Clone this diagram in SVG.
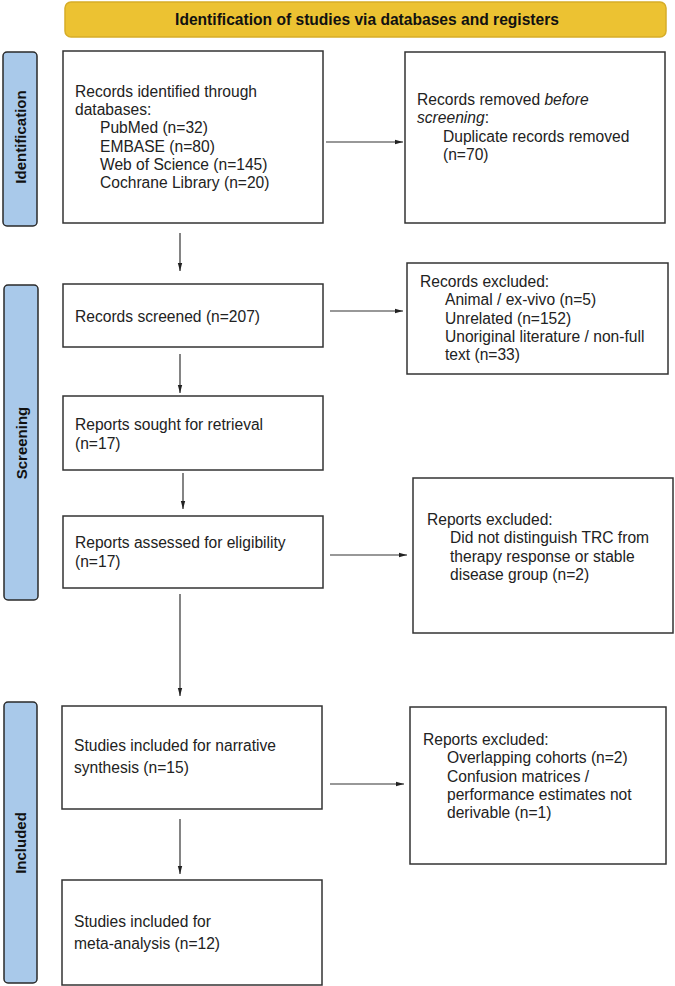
<svg xmlns="http://www.w3.org/2000/svg" width="675" height="986" viewBox="0 0 675 986">
<defs>
<marker id="ah" viewBox="0 0 8 6" refX="8" refY="3" markerWidth="8" markerHeight="6" markerUnits="userSpaceOnUse" orient="auto">
<path d="M0,0.8 L8,3 L0,5.2 Z" fill="#222"/>
</marker>
<style>
.box{fill:#fff;stroke:#333;stroke-width:1.5}
.lab{fill:#a9c9ea;stroke:#2a2a2a;stroke-width:1.5}
.t{font-family:"Liberation Sans",Arial,sans-serif;font-size:15.6px;fill:#222}
.lt{font-family:"Liberation Sans",Arial,sans-serif;font-size:15px;font-weight:bold;fill:#111}
.ht{font-family:"Liberation Sans",Arial,sans-serif;font-size:15.6px;font-weight:bold;fill:#111}
.c{stroke:#333;stroke-width:1.2;fill:none;marker-end:url(#ah)}
</style>
</defs>
<rect width="675" height="986" fill="#fff"/>
<g id="header">
<rect x="65" y="2" width="601" height="35" rx="6" fill="#ecc232" stroke="#d6ad28" stroke-width="1.5"/>
<text class="ht" x="367" y="25" text-anchor="middle">Identification of studies via databases and registers</text>
</g>
<g id="label-identification">
<rect class="lab" x="3" y="52" width="34" height="174" rx="4"/>
<text class="lt" transform="translate(25.5,137) rotate(-90)" text-anchor="middle">Identification</text>
</g>
<g id="label-screening">
<rect class="lab" x="4" y="285" width="34" height="315" rx="4"/>
<text class="lt" transform="translate(26.5,443) rotate(-90)" text-anchor="middle">Screening</text>
</g>
<g id="label-included">
<rect class="lab" x="4" y="702" width="33" height="281" rx="4"/>
<text class="lt" transform="translate(25.5,843) rotate(-90)" text-anchor="middle">Included</text>
</g>
<g id="identified">
<rect class="box" x="63" y="51" width="260" height="172"/>
<text class="t" x="75" y="96.7">Records identified through</text>
<text class="t" x="75" y="115">databases:</text>
<text class="t" x="100" y="133.3">PubMed (n=32)</text>
<text class="t" x="100" y="151.6">EMBASE (n=80)</text>
<text class="t" x="100" y="169.9">Web of Science (n=145)</text>
<text class="t" x="100" y="188.2">Cochrane Library (n=20)</text>
</g>
<g id="removed">
<rect class="box" x="405" y="52" width="260" height="171"/>
<text class="t" x="417" y="105">Records removed <tspan font-style="italic">before</tspan></text>
<text class="t" x="417" y="123.3"><tspan font-style="italic">screening</tspan>:</text>
<text class="t" x="443" y="141.6">Duplicate records removed</text>
<text class="t" x="443" y="160">(n=70)</text>
</g>
<g id="screened">
<rect class="box" x="63" y="284" width="260" height="63"/>
<text class="t" x="75" y="322">Records screened (n=207)</text>
</g>
<g id="excluded-records">
<rect class="box" x="407" y="263" width="261" height="111"/>
<text class="t" x="420" y="287">Records excluded:</text>
<text class="t" x="445" y="305.3">Animal / ex-vivo (n=5)</text>
<text class="t" x="445" y="323.6">Unrelated (n=152)</text>
<text class="t" x="445" y="342">Unoriginal literature / non-full</text>
<text class="t" x="445" y="360.3">text (n=33)</text>
</g>
<g id="sought">
<rect class="box" x="63" y="396" width="260" height="74"/>
<text class="t" x="75" y="430">Reports sought for retrieval</text>
<text class="t" x="75" y="449">(n=17)</text>
</g>
<g id="assessed">
<rect class="box" x="63" y="516" width="260" height="72"/>
<text class="t" x="75" y="548">Reports assessed for eligibility</text>
<text class="t" x="75" y="567">(n=17)</text>
</g>
<g id="excluded-reports-1">
<rect class="box" x="413" y="478" width="260" height="155"/>
<text class="t" x="427" y="525">Reports excluded:</text>
<text class="t" x="450" y="543.3">Did not distinguish TRC from</text>
<text class="t" x="450" y="561.6">therapy response or stable</text>
<text class="t" x="450" y="580">disease group (n=2)</text>
</g>
<g id="narrative">
<rect class="box" x="62" y="706" width="260" height="103"/>
<text class="t" x="74" y="751">Studies included for narrative</text>
<text class="t" x="74" y="773">synthesis (n=15)</text>
</g>
<g id="excluded-reports-2">
<rect class="box" x="410" y="707" width="256" height="157"/>
<text class="t" x="423" y="745">Reports excluded:</text>
<text class="t" x="447" y="763.3">Overlapping cohorts (n=2)</text>
<text class="t" x="447" y="781.6">Confusion matrices /</text>
<text class="t" x="447" y="800">performance estimates not</text>
<text class="t" x="447" y="818.3">derivable (n=1)</text>
</g>
<g id="meta">
<rect class="box" x="62" y="880" width="260" height="105"/>
<text class="t" x="74" y="927">Studies included for</text>
<text class="t" x="74" y="949">meta-analysis (n=12)</text>
</g>
<g id="connectors">
<line class="c" x1="180" y1="233" x2="180" y2="271"/>
<line class="c" x1="180" y1="354" x2="180" y2="393"/>
<line class="c" x1="183" y1="473" x2="183" y2="509"/>
<line class="c" x1="180" y1="594" x2="180" y2="696"/>
<line class="c" x1="180" y1="819" x2="180" y2="874"/>
<line class="c" x1="326" y1="142" x2="403" y2="142"/>
<line class="c" x1="330" y1="311" x2="403" y2="311"/>
<line class="c" x1="330" y1="555" x2="407" y2="555"/>
<line class="c" x1="330" y1="784" x2="404" y2="784"/>
</g>
</svg>
